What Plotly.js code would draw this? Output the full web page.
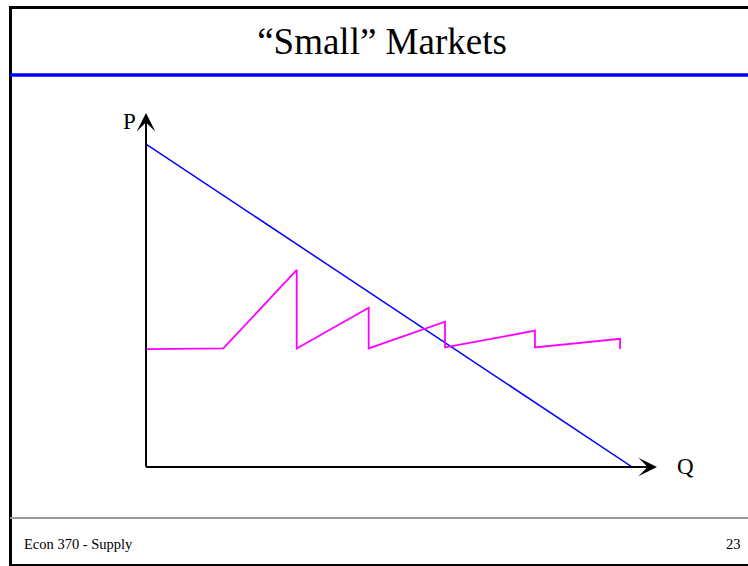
<!DOCTYPE html>
<html><head><meta charset="utf-8">
<script src="https://cdn.plot.ly/plotly-3.0.1.min.js"></script>
<style>html,body{margin:0;padding:0;background:#fff;overflow:hidden;}#chart{width:748px;height:566px;}</style>
</head><body><div id="chart"></div>
<script>
// ---- data (quantity Q, price P) ----
const demandQ = [0, 10];
const demandP = [10, 0];
const supplyQ = [0, 1.59, 3.10, 3.10, 4.58, 4.58, 6.15, 6.15, 8.00, 8.00, 9.75, 9.75];
const supplyP = [3.65, 3.67, 6.10, 3.67, 4.93, 3.67, 4.50, 3.70, 4.22, 3.70, 3.97, 3.65];
const xAxisLabel = 'Q';
const yAxisLabel = 'P';
const titleText = '“Small” Markets';
const footerLeft = 'Econ 370 - Supply';
const footerRight = '23';
const qMax = 10.51, pMax = 10.96;

// ---- layout helpers (pixel -> paper) ----
const W = 748, H = 566, L = 146, R = 657, T = 113, B = 467;
const px = x => (x - L) / (R - L);
const py = y => (B - y) / (B - T);
const serif = '"Liberation Serif", "Times New Roman", serif';

const traces = [
  {x: demandQ, y: demandP, type: 'scatter', mode: 'lines', line: {color: '#0000FF', width: 1.5}, hoverinfo: 'skip'},
  {x: supplyQ, y: supplyP, type: 'scatter', mode: 'lines', line: {color: '#FF00FF', width: 1.8}, hoverinfo: 'skip'}
];

const layout = {
  width: W, height: H,
  margin: {l: L, r: W - R, t: T, b: H - B, pad: 0},
  paper_bgcolor: '#ffffff', plot_bgcolor: 'rgba(0,0,0,0)',
  showlegend: false,
  xaxis: {range: [0, qMax], visible: false, fixedrange: true},
  yaxis: {range: [0, pMax], visible: false, fixedrange: true},
  title: {text: titleText, font: {family: serif, size: 37, color: '#000'},
          xref: 'paper', x: px(382), xanchor: 'center', yref: 'container', y: 1 - 41 / H, yanchor: 'middle'},
  shapes: [
    {type: 'rect', xref: 'paper', yref: 'paper', x0: px(10.5), x1: px(770), y0: py(7.5), y1: py(565.5),
     line: {color: '#000', width: 3}, layer: 'below'},
    {type: 'line', xref: 'paper', yref: 'paper', x0: px(10), x1: px(770), y0: py(75), y1: py(75),
     line: {color: '#0000FF', width: 3.5}},
    {type: 'line', xref: 'paper', yref: 'paper', x0: px(10), x1: px(770), y0: py(518), y1: py(518),
     line: {color: '#9a9a9a', width: 2}}
  ],
  annotations: [
    {xref: 'x', yref: 'y', axref: 'x', ayref: 'y', x: 0, y: pMax, ax: 0, ay: -0.04, text: '',
     showarrow: true, arrowhead: 3, arrowsize: 1.55, arrowwidth: 2, arrowcolor: '#000', standoff: 0},
    {xref: 'x', yref: 'y', axref: 'x', ayref: 'y', x: qMax, y: 0, ax: -0.03, ay: 0, text: '',
     showarrow: true, arrowhead: 3, arrowsize: 1.55, arrowwidth: 2, arrowcolor: '#000', standoff: 0},
    {xref: 'paper', yref: 'paper', x: px(129), y: py(121), text: yAxisLabel, showarrow: false,
     xanchor: 'center', yanchor: 'middle', font: {family: serif, size: 23, color: '#000'}},
    {xref: 'paper', yref: 'paper', x: px(685), y: py(466), text: xAxisLabel, showarrow: false,
     xanchor: 'center', yanchor: 'middle', font: {family: serif, size: 23, color: '#000'}},
    {xref: 'paper', yref: 'paper', x: px(22), y: py(544), text: footerLeft, showarrow: false,
     xanchor: 'left', yanchor: 'middle', font: {family: serif, size: 14.5, color: '#000'}},
    {xref: 'paper', yref: 'paper', x: px(743), y: py(544), text: footerRight, showarrow: false,
     xanchor: 'right', yanchor: 'middle', font: {family: serif, size: 14.5, color: '#000'}}
  ]
};

Plotly.newPlot('chart', traces, layout, {staticPlot: true, displayModeBar: false});
</script>
</body></html>
